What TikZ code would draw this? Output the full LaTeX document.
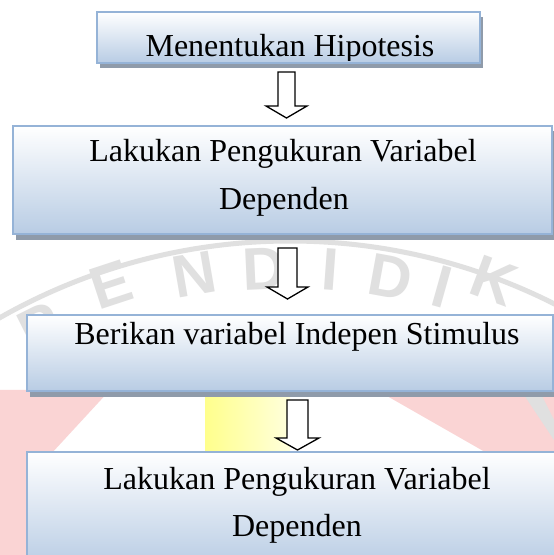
\documentclass[tikz,border=0pt]{standalone}
\usepackage{fontspec}
\setmainfont{Liberation Serif}
\setsansfont{Liberation Sans}
\usetikzlibrary{calc}
\definecolor{bordc}{HTML}{95B3D7}
\definecolor{botc}{HTML}{B8CCE4}
\definecolor{shadc}{HTML}{8F9BAA}
\definecolor{wmgray}{HTML}{E0E0E0}
\definecolor{wmpink}{HTML}{FAD4D4}
\definecolor{wmyellow}{HTML}{FFFF8C}
\begin{document}
\begin{tikzpicture}[x=1pt,y=1pt,
  box/.style={draw=bordc, line width=1.5pt, top color=white, bottom color=botc, rectangle, inner sep=0pt},
  boxshadow/.style={fill=shadc},
  lbl/.style={font=\fontsize{32}{48}\selectfont, align=center, inner sep=0pt, anchor=base},
  barrow/.style={draw=black, line width=1.3pt, fill=white, line join=miter},
  wm/.style={font=\sffamily\bfseries\fontsize{60}{60}\selectfont, text=wmgray, inner sep=0pt}
]
\useasboundingbox (0,0) rectangle (554,555);
\fill[white] (0,0) rectangle (554,555);

% faint watermark
\coordinate (wmc) at (290,555-828);
\draw[wmgray, line width=5pt] ($(wmc)+(120:587)$) arc[start angle=120, end angle=60, radius=587];
\foreach \ch/\a/\r in {P/116.5/560, E/108.2/572, N/99.8/562, D/92.6/560, I/85.9/560, D/79.7/560, I/74.3/562, K/69.6/584}{
  \node[wm, rotate=\a-90] (wm-\ch-\a) at ($(wmc)+(\a:\r)$) {\ch};
}
\fill[wmpink] (0,555-390) -- (110,555-390) -- (27,555-480) -- (27,0) -- (0,0) -- cycle;
\shade[left color=wmyellow, right color=wmyellow!30] (205,555-392) rectangle (290,555-452);
\fill[wmpink] (380,555-392) -- (554,555-392) -- (554,555-452) -- (485,555-452) -- cycle;
\fill[wmgray] (522,555-392) -- (540,555-392) -- (554,555-420) -- (554,555-440) -- cycle;

% shadows
\fill[boxshadow] (100,555-68) rectangle (483,555-17);
\fill[boxshadow] (16,555-240) rectangle (556,555-131);
\fill[boxshadow] (30,555-397) rectangle (556,555-320);

% boxes
\node[box, minimum width=383pt, minimum height=51pt] (b1) at (288.5,555-37.5) {};
\node[box, minimum width=539pt, minimum height=108pt] (b2) at (282.5,555-180) {};
\node[box, minimum width=526pt, minimum height=76pt] (b3) at (290,555-353) {};
\node[box, minimum width=535pt, minimum height=115pt] (b4) at (294.5,555-509.5) {};

% texts
\begin{scope}
\clip (97,555-12) rectangle (480,555-61);
\node[lbl] (t1) at (290,555-57) {Menentukan Hipotesis};
\end{scope}
\node[lbl] (t2a) at (283,555-162) {Lakukan Pengukuran Variabel};
\node[lbl] (t2b) at (284,555-210) {Dependen};
\node[lbl] (t3) at (297,555-345) {Berikan variabel Indepen Stimulus};
\node[lbl] (t4a) at (297,555-490) {Lakukan Pengukuran Variabel};
\node[lbl] (t4b) at (297,555-537) {Dependen};

% block arrows
\draw[barrow] (278,555-72) -- (295,555-72) -- (295,555-106) -- (307,555-106) -- (286.5,555-118)
  -- (266,555-106) -- (278,555-106) -- cycle;
\draw[barrow] (278,555-248) -- (297,555-248) -- (297,555-287) -- (308,555-287) -- (287.5,555-299)
  -- (267,555-287) -- (278,555-287) -- cycle;
\draw[barrow] (287,555-400) -- (308,555-400) -- (308,555-438) -- (319,555-438) -- (297.5,555-450)
  -- (276,555-438) -- (287,555-438) -- cycle;
\end{tikzpicture}
\end{document}
